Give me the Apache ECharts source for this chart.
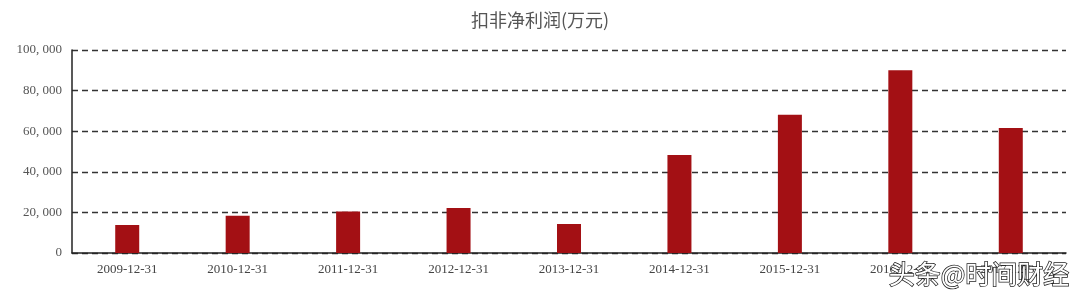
<!DOCTYPE html>
<html><head><meta charset="utf-8">
<script src="https://cdn.jsdelivr.net/npm/echarts@6/dist/echarts.min.js"></script>
<style>html,body{margin:0;padding:0;background:#fff}#c{width:1080px;height:292px}</style>
</head><body><div id="c"></div>
<script>
const categories = ['2009-12-31','2010-12-31','2011-12-31','2012-12-31','2013-12-31','2014-12-31','2015-12-31','2016-12-31','2017-12-31'];
const values = [13800, 18400, 20500, 22200, 14300, 48300, 68100, 90000, 61600];
const yTicks = [0, 20000, 40000, 60000, 80000, 100000];
const titleText = '扣非净利润(万元)';
const watermark = '头条@时间财经';

const chart = echarts.init(document.getElementById('c'));
chart.setOption({
  animation: false,
  title: { text: titleText, left: 'center', top: 6,
    textStyle: { fontFamily: 'Noto Sans CJK SC', fontSize: 18, fontWeight: 'normal', color: '#555' } },
  grid: { left: 72, right: 14, top: 50, bottom: 39 },
  xAxis: { type: 'category', data: categories,
    axisLine: { lineStyle: { color: '#222', width: 1.5 } },
    axisTick: { show: false },
    axisLabel: { color: '#444', fontFamily: 'Liberation Serif, DejaVu Serif', fontSize: 13, margin: 10 } },
  yAxis: { type: 'value', min: yTicks[0], max: yTicks[yTicks.length-1], interval: 20000,
    axisLine: { show: true, lineStyle: { color: '#222', width: 1.5 } },
    axisTick: { show: false },
    splitLine: { lineStyle: { color: '#333', type: [6, 4], width: 1.3 } },
    axisLabel: { color: '#555', fontFamily: 'Liberation Serif, DejaVu Serif', fontSize: 13, margin: 10,
      formatter: v => v === 0 ? '0' : v.toLocaleString('en-US').replace(/,/g, ', ') } },
  series: [{ type: 'bar', data: values, barWidth: 24, itemStyle: { color: '#A31014' } }],
  graphic: [{ type: 'text', right: 10, bottom: 4, z: 100,
    style: { text: watermark, fontFamily: 'Noto Sans CJK SC', fontSize: 26, fill: '#fff',
      stroke: '#222', lineWidth: 1.5 } }]
});
</script></body></html>
